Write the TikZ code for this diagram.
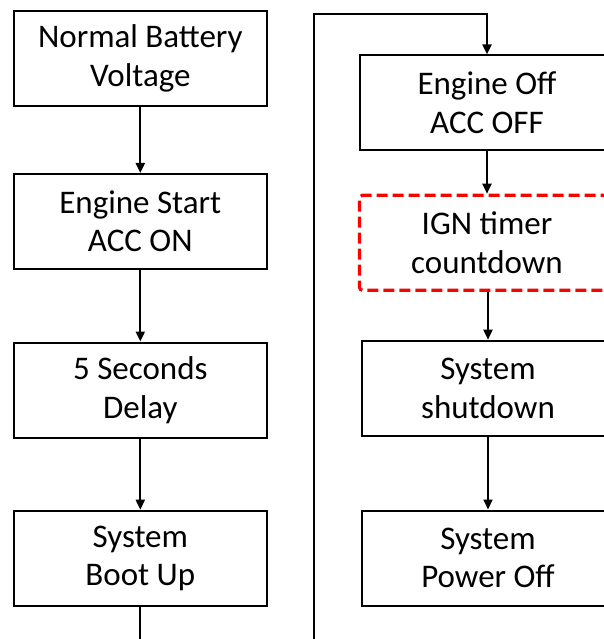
\documentclass[tikz,border=0pt]{standalone}
\usepackage{fontspec}
\setmainfont{Carlito}
\usetikzlibrary{arrows.meta}
\begin{document}
\begin{tikzpicture}[x=1pt,y=-1pt,
  box/.style={draw=black,line width=2pt,minimum width=253pt,minimum height=95pt,align=center,
    font=\fontsize{33}{38.5}\selectfont,inner sep=0pt},
  dbox/.style={box,draw=red,line width=3.2pt,dash pattern=on 11pt off 5pt,rounded corners=3pt},
  conn/.style={line width=2pt,-{Triangle[width=9pt,length=10pt]}},
  link/.style={line width=2pt}]
\useasboundingbox (0,0) rectangle (604,639);
\clip (0,0) rectangle (604,639);
% left column
\node[box] (nbv) at (140.3,58.3) {Normal Battery\\Voltage};
\node[box] (es) at (140.3,221.5) {Engine Start\\ACC ON};
\node[box] (delay) at (140.3,390) {5 Seconds\\Delay};
\node[box] (boot) at (140.3,558.2) {System\\Boot Up};
% right column
\node[box,minimum width=255pt] (eoff) at (487,102.9) {Engine Off\\ACC OFF};
\node[dbox,minimum width=255pt] (ign) at (487,242.8) {IGN timer\\countdown};
\node[box,minimum width=253pt] (shut) at (488,388.2) {System\\shutdown};
\node[box,minimum width=253pt] (poff) at (488,558) {System\\Power Off};
% connectors
\draw[conn] (nbv) -- (es);
\draw[conn] (es) -- (delay);
\draw[conn] (delay) -- (boot);
\coordinate (bootout) at (140.3,650);
\draw[link] (boot) -- (bootout);
\coordinate (loopin) at (314,650);
\coordinate (turn) at (314,14);
\draw[conn,line join=miter] (loopin) -- (turn) -| (eoff.north);
\draw[conn] (eoff) -- (ign);
\draw[conn] (ign.south -| shut.north) -- (shut);
\draw[conn] (shut) -- (poff);
\end{tikzpicture}
\end{document}
